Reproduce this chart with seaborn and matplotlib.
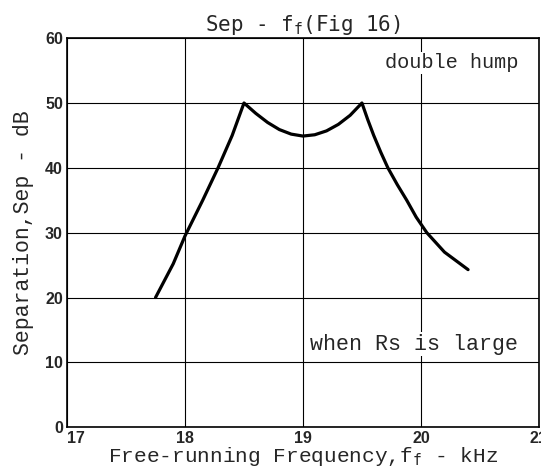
import numpy as np
import pandas as pd
import matplotlib
matplotlib.use("Agg")
import matplotlib.pyplot as plt
import seaborn as sns

# values (kHz, dB)
freq_khz = [17.75, 17.9, 18.0, 18.15, 18.28, 18.4, 18.5,
            18.6, 18.7, 18.8, 18.9, 19.0, 19.1, 19.2, 19.3, 19.4, 19.5,
            19.55, 19.6, 19.66, 19.72, 19.8, 19.88, 19.96, 20.05, 20.2, 20.4]
sep_db = [20.0, 25.2, 29.5, 35.0, 40.0, 45.0, 50.0,
          48.4, 47.0, 45.9, 45.2, 44.9, 45.1, 45.7, 46.7, 48.1, 50.0,
          47.4, 45.0, 42.4, 40.0, 37.4, 35.0, 32.4, 30.0, 27.0, 24.3]

x_ticks = [17, 18, 19, 20, 21]
y_ticks = [0, 10, 20, 30, 40, 50, 60]

df = pd.DataFrame({"freq": freq_khz, "sep": sep_db})

sns.set_style("white")
plt.rcParams["mathtext.fontset"] = "custom"
plt.rcParams["mathtext.rm"] = "Liberation Mono"
plt.rcParams["mathtext.it"] = "Liberation Mono"
mono = "Liberation Mono"

fig = plt.figure(figsize=(5.41, 4.71), dpi=100)
ax = fig.add_axes([0.124, 0.093, 0.872, 0.826])

# grid first so the curve sits on top
for xv in x_ticks:
    ax.axvline(xv, color="black", lw=0.8, zorder=1)
for yv in y_ticks:
    ax.axhline(yv, color="black", lw=0.8, zorder=1)

sns.lineplot(data=df, x="freq", y="sep", color="black", lw=2.3, sort=False,
             ax=ax, zorder=3)

ax.set_xlim(17, 21)
ax.set_ylim(0, 60)
ax.set_xticks(x_ticks)
ax.set_yticks(y_ticks)
ax.set_xticklabels([str(v) for v in x_ticks], fontweight="bold",
                   family="Liberation Sans", fontsize=11.5)
ax.set_yticklabels([str(v) for v in y_ticks], fontweight="bold",
                   family="Liberation Sans", fontsize=11.5)
ax.get_xticklabels()[0].set_ha("left")
ax.tick_params(axis="both", length=0, pad=3)
for s in ax.spines.values():
    s.set_color("black")
    s.set_linewidth(1.2)

plt.rcParams["mathtext.rm"] = "DejaVu Sans Mono"
ax.set_title(r"Sep - f$_{\mathrm{f}}$(Fig 16)", family="DejaVu Sans Mono",
             fontsize=15, pad=5)
ax.set_xlabel(r"Free-running Frequency,f$_{\mathrm{f}}$ - kHz", family=mono,
              fontsize=15.2, labelpad=-1)
ax.set_ylabel("Separation,Sep - dB", family=mono, fontsize=15.5, labelpad=8)

ax.text(20.83, 56.2, "double hump", family=mono, fontsize=14.6, ha="right",
        va="center", zorder=4,
        bbox=dict(facecolor="white", edgecolor="none", pad=1))
ax.text(20.82, 12.8, "when Rs is large", family=mono, fontsize=15.6, ha="right",
        va="center", zorder=4,
        bbox=dict(facecolor="white", edgecolor="none", pad=1))

fig.savefig("out.png", dpi=100)
